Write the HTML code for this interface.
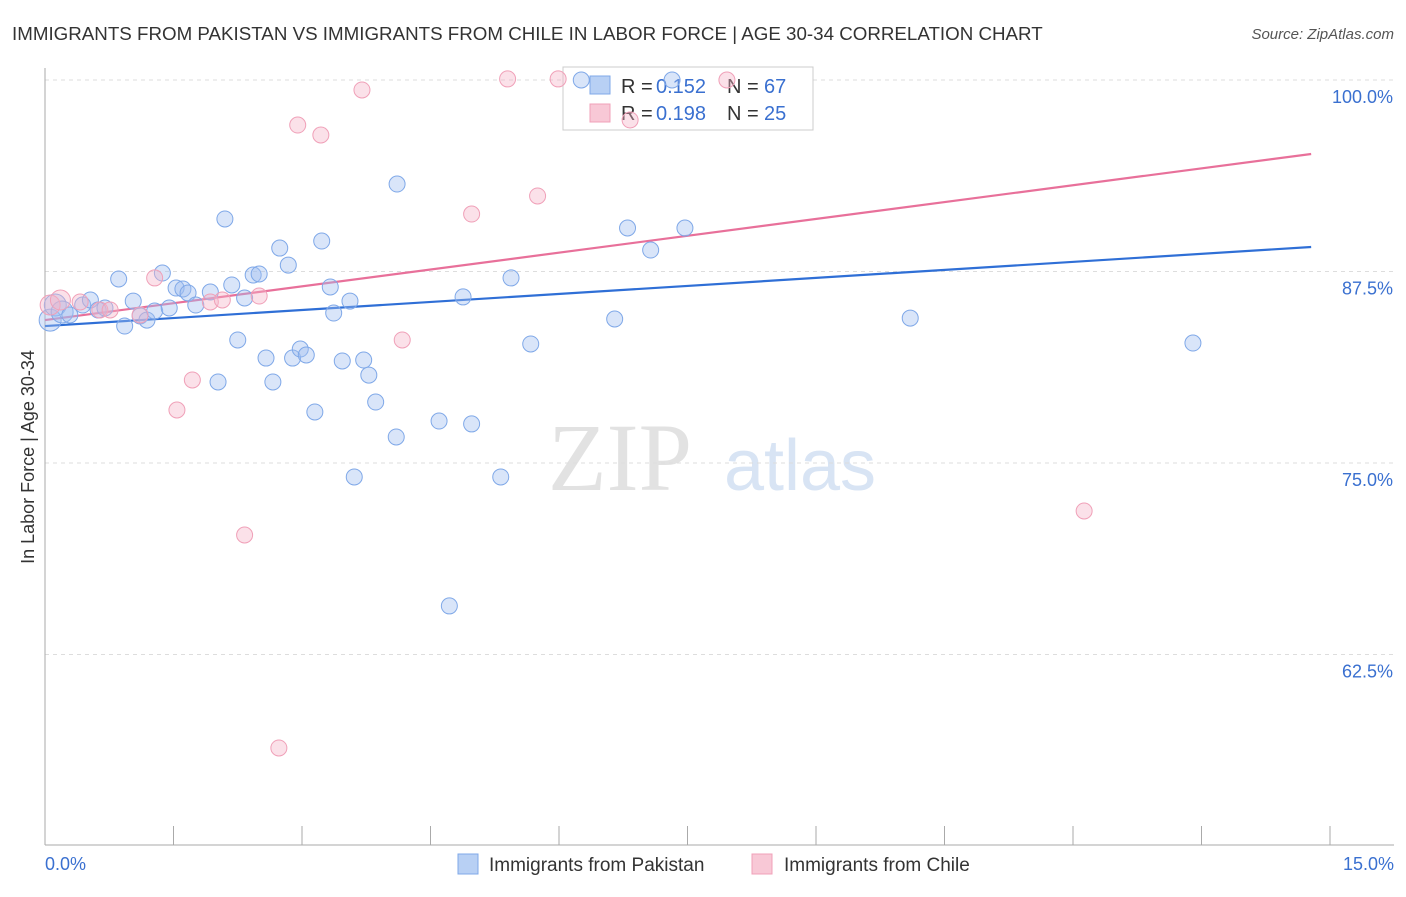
<!DOCTYPE html>
<html><head><meta charset="utf-8"><style>
body{margin:0;background:#fff;font-family:"Liberation Sans",sans-serif}
</style></head><body>
<svg width="1406" height="892" viewBox="0 0 1406 892" xmlns="http://www.w3.org/2000/svg" id="chart">
<text x="12" y="40" font-size="18.75" fill="#333">IMMIGRANTS FROM PAKISTAN VS IMMIGRANTS FROM CHILE IN LABOR FORCE | AGE 30-34 CORRELATION CHART</text>
<text x="1394" y="39" font-size="15" fill="#555" font-style="italic" text-anchor="end">Source: ZipAtlas.com</text>
<text x="620" y="490" font-size="96" fill="#e2e2e2" font-family="Liberation Serif,serif" text-anchor="middle">ZIP</text>
<text x="800" y="490" font-size="72" fill="#d8e4f4" text-anchor="middle">atlas</text>
<text transform="translate(34,457) rotate(-90)" font-size="18" fill="#333" text-anchor="middle">In Labor Force | Age 30-34</text>
<g id="grid"></g><g id="axes"></g>
<g>
<rect x="563" y="67" width="250" height="63" fill="#fff" stroke="#ccc"/>
<rect x="590" y="76" width="20" height="18" fill="#b8d0f4" stroke="#7fa8e8"/>
<text x="621" y="93" font-size="20" fill="#333">R =</text>
<text x="656" y="93" font-size="20" fill="#3a70d0">0.152</text>
<text x="727" y="93" font-size="20" fill="#333">N =</text>
<text x="764" y="93" font-size="20" fill="#3a70d0">67</text>
<rect x="590" y="104" width="20" height="18" fill="#f8c8d6" stroke="#f0a0b8"/>
<text x="621" y="120" font-size="20" fill="#333">R =</text>
<text x="656" y="120" font-size="20" fill="#3a70d0">0.198</text>
<text x="727" y="120" font-size="20" fill="#333">N =</text>
<text x="764" y="120" font-size="20" fill="#3a70d0">25</text>
</g>
<g id="lines"></g><g id="pts"></g>
<g>
<rect x="458" y="854" width="20" height="20" fill="#b8d0f4" stroke="#7fa8e8"/>
<text x="489" y="871" font-size="19" fill="#333">Immigrants from Pakistan</text>
<rect x="752" y="854" width="20" height="20" fill="#f8c8d6" stroke="#f0a0b8"/>
<text x="784" y="871" font-size="19" fill="#333">Immigrants from Chile</text>
</g>
</svg>
<script>
const blueX=[0.06,0.12,0.20,0.29,0.44,0.53,0.62,0.70,0.86,0.93,1.03,1.11,1.19,1.28,1.37,1.45,1.53,1.61,1.67,1.76,1.93,2.02,2.10,2.18,2.25,2.33,2.43,2.50,2.58,2.66,2.74,2.84,2.89,2.98,3.05,3.15,3.23,3.33,3.37,3.47,3.56,3.61,3.72,3.78,3.86,4.10,4.11,4.60,4.72,4.88,4.98,5.32,5.44,5.67,6.26,6.65,6.80,7.07,7.32,7.47,10.10,13.40];
const blueY=[84.33,85.31,84.86,84.66,85.31,85.64,84.99,85.12,87.01,83.94,85.57,84.60,84.33,84.92,87.40,85.12,86.42,86.36,86.10,85.31,86.16,80.29,90.93,86.62,83.03,85.77,87.27,87.34,81.85,80.29,89.03,87.92,81.85,82.44,82.05,78.33,89.49,86.49,84.79,81.66,85.57,74.09,81.72,80.74,78.98,76.70,93.21,77.74,65.67,85.84,77.55,74.09,87.08,82.77,100,84.40,90.34,88.90,100,90.34,84.46,82.83];
const pinkX=[0.06,0.18,0.41,0.64,0.76,1.11,1.28,1.54,1.72,1.93,2.07,2.33,2.50,2.73,2.95,3.22,3.70,4.17,4.98,5.40,5.75,5.99,6.83,7.96,12.13];
const pinkY=[85.31,85.64,85.51,84.99,84.99,84.66,87.08,78.46,80.42,85.51,85.64,70.30,85.90,56.40,97.06,96.41,99.35,83.03,91.25,100.07,92.43,100.07,97.39,100,71.87];
const blueTrendX=[0,14.78], blueTrendY=[83.94,89.10];
const pinkTrendX=[0,14.78], pinkTrendY=[84.33,95.17];
const yTicks=[100,87.5,75,62.5];
const yTickLabels=["100.0%","87.5%","75.0%","62.5%"];
const xTicks=[0,1.5,3,4.5,6,7.5,9,10.5,12,13.5,15];
const NS="http://www.w3.org/2000/svg";
const sx=v=>45+v/15*1285;
const sy=v=>80+(100-v)/12.5*191.5;
function mk(t,a,p){const e=document.createElementNS(NS,t);for(const k in a)e.setAttribute(k,a[k]);document.getElementById(p).appendChild(e);return e;}
yTicks.forEach((v,i)=>{
  const l=mk('line',{x1:45,x2:1394,y1:sy(v),y2:sy(v),stroke:'#ddd','stroke-dasharray':'4,4'},'grid');
  
  
  const t=mk('text',{x:1393,y:sy(v)+23,'font-size':18,fill:'#3a70d0','text-anchor':'end'},'grid');
  t.textContent=yTickLabels[i];
  
  
});
const ax=mk('line',{x1:45,x2:45,y1:68,y2:845,stroke:'#aaa'},'axes');


const bx=mk('line',{x1:45,x2:1394,y1:845,y2:845,stroke:'#aaa'},'axes');


xTicks.forEach(v=>{
  const t=mk('line',{x1:sx(v),x2:sx(v),y1:826,y2:845,stroke:'#aaa'},'axes');
  
  
});
const xl=mk('text',{x:45,y:870,'font-size':18,fill:'#3a70d0'},'axes');xl.textContent='0.0%';


const xr=mk('text',{x:1394,y:870,'font-size':18,fill:'#3a70d0','text-anchor':'end'},'axes');xr.textContent='15.0%';


blueX.forEach((x,i)=>{
  const c=mk('circle',{cx:sx(x),cy:sy(blueY[i]),r:i<3?11:8,fill:'rgba(160,190,240,0.4)',stroke:'#7fa8e8','stroke-width':1},'pts');
  
  
});
pinkX.forEach((x,i)=>{
  const c=mk('circle',{cx:sx(x),cy:sy(pinkY[i]),r:i<2?10:8,fill:'rgba(245,180,200,0.4)',stroke:'#f0a0b8','stroke-width':1},'pts');
  
  
});
const bl=mk('line',{x1:sx(blueTrendX[0]),y1:sy(blueTrendY[0]),x2:sx(blueTrendX[1]),y2:sy(blueTrendY[1]),stroke:'#2f6fd6','stroke-width':2.2},'lines');


const pl=mk('line',{x1:sx(pinkTrendX[0]),y1:sy(pinkTrendY[0]),x2:sx(pinkTrendX[1]),y2:sy(pinkTrendY[1]),stroke:'#e8709a','stroke-width':2.2},'lines');


</script>
</body></html>
